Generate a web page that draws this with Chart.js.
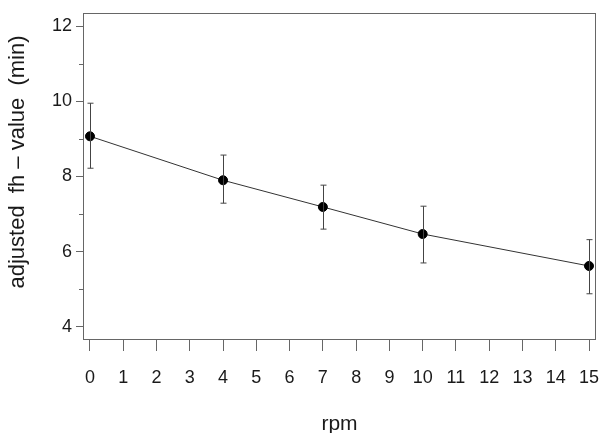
<!DOCTYPE html>
<html>
<head>
<meta charset="utf-8">
<script src="https://cdn.jsdelivr.net/npm/chart.js@4/dist/chart.umd.min.js"></script>
<style>
  html, body { margin: 0; padding: 0; background: #fff; }
  #wrap { width: 602px; height: 433px; }
</style>
</head>
<body>
<div id="wrap"><canvas id="chart" width="602" height="433"></canvas></div>
<script>
// values
const rpm = [0, 4, 7, 10, 15];
const fhValue = [9.07, 7.90, 7.19, 6.47, 5.62];
const errHigh = [9.95, 8.57, 7.77, 7.21, 6.32];
const errLow = [8.22, 7.29, 6.60, 5.70, 4.88];
const xTicks = [0, 1, 2, 3, 4, 5, 6, 7, 8, 9, 10, 11, 12, 13, 14, 15];
const yTicks = [4, 6, 8, 10, 12];
const yMinorTicks = [5, 7, 9, 11];
const yTitle = 'adjusted  fh – value  (min)';

const ink = '#1a1a1a';
const frame = '#666';

// frame, minor ticks, error bars and the y title
const extras = {
    id: 'extras',
    afterDatasetsDraw(chart) {
        const ctx = chart.ctx;
        const area = chart.chartArea;
        const xs = chart.scales.x;
        const ys = chart.scales.y;
        ctx.save();
        ctx.strokeStyle = frame;
        ctx.lineWidth = 1;
        ctx.strokeRect(area.left + 0.5, area.top + 0.5, area.right - area.left - 1, area.bottom - area.top - 1);

        yMinorTicks.forEach(v => {
            const py = Math.round(ys.getPixelForValue(v)) + 0.5;
            ctx.beginPath();
            ctx.moveTo(area.left - 4, py);
            ctx.lineTo(area.left, py);
            ctx.stroke();
        });

        ctx.strokeStyle = '#444';
        rpm.forEach((r, i) => {
            const px = Math.round(xs.getPixelForValue(r)) + 0.5;
            const top = ys.getPixelForValue(errHigh[i]);
            const bot = ys.getPixelForValue(errLow[i]);
            ctx.beginPath();
            ctx.moveTo(px, top);
            ctx.lineTo(px, bot);
            ctx.moveTo(px - 3, top);
            ctx.lineTo(px + 3, top);
            ctx.moveTo(px - 3, bot);
            ctx.lineTo(px + 3, bot);
            ctx.stroke();
        });

        ctx.translate(18, 162);
        ctx.rotate(-Math.PI / 2);
        ctx.fillStyle = ink;
        ctx.font = '22px "Liberation Sans"';
        ctx.textAlign = 'center';
        ctx.textBaseline = 'middle';
        ctx.fillText(yTitle, 0, 0);
        ctx.restore();
    }
};

new Chart(document.getElementById('chart'), {
    type: 'scatter',
    data: {
        datasets: [{
            data: rpm.map((r, i) => ({ x: r, y: fhValue[i] })),
            showLine: true,
            borderColor: '#333',
            borderWidth: 1,
            pointBackgroundColor: '#000',
            pointBorderColor: '#000',
            pointRadius: 4.5,
            pointHoverRadius: 4.5
        }]
    },
    options: {
        responsive: false,
        animation: false,
        layout: { padding: { top: 13, right: 6, left: 0, bottom: 0 } },
        plugins: {
            legend: { display: false },
            tooltip: { enabled: false }
        },
        scales: {
            x: {
                type: 'linear',
                min: -0.21,
                max: 15.21,
                afterBuildTicks: scale => { scale.ticks = xTicks.map(v => ({ value: v })); },
                afterFit: scale => {
                    scale.height = 93;
                    scale.paddingLeft = 0;
                    scale.paddingRight = 0;
                },
                grid: {
                    drawOnChartArea: false,
                    tickLength: 11,
                    color: frame
                },
                border: { display: false },
                ticks: {
                    color: ink,
                    padding: 16,
                    maxRotation: 0,
                    autoSkip: false,
                    font: { family: 'Liberation Sans', size: 18 }
                },
                title: {
                    display: true,
                    text: 'rpm',
                    color: ink,
                    padding: { top: 0, bottom: 4 },
                    font: { family: 'Liberation Sans', size: 21, lineHeight: 0.5 }
                }
            },
            y: {
                min: 3.65,
                max: 12.35,
                afterBuildTicks: scale => { scale.ticks = yTicks.map(v => ({ value: v })); },
                afterFit: scale => {
                    scale.width = 83;
                    scale.paddingTop = 0;
                    scale.paddingBottom = 0;
                },
                grid: {
                    drawOnChartArea: false,
                    tickLength: 7,
                    color: frame
                },
                border: { display: false },
                ticks: {
                    color: ink,
                    padding: 4,
                    font: { family: 'Liberation Sans', size: 18 }
                },
                title: { display: false }
            }
        }
    },
    plugins: [extras]
});
</script>
</body>
</html>
